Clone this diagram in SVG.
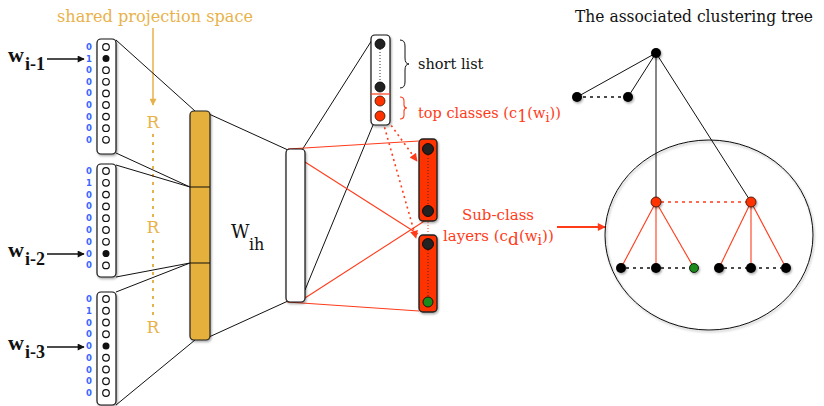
<svg xmlns="http://www.w3.org/2000/svg" width="824" height="406" viewBox="0 0 824 406">
<style>
.serif{font-family:"DejaVu Serif","Liberation Serif",serif}
.yel{fill:#e8b24a}
.red{fill:#ff3b1a}
.num{font-family:"DejaVu Sans","Liberation Sans",sans-serif;font-weight:bold;font-size:8.5px;fill:#3a66ff;text-anchor:middle}
.wl{font-family:"Liberation Serif",serif;font-weight:bold;fill:#111}
.box{fill:#fff;stroke:#111;stroke-width:1.2}
.oc{fill:#fff;stroke:#111;stroke-width:1.2}
.fc{fill:#111}
.bl{stroke:#111;stroke-width:1;fill:none}
.rl{stroke:#ff3b1a;stroke-width:1.1;fill:none}
.dk{fill:#222;stroke:#000;stroke-width:0.8}
.rn{fill:#ff3300;stroke:#331100;stroke-width:0.8}
.gn{fill:#1a8a1a;stroke:#000;stroke-width:0.8}
.tn{fill:#000}
</style>
<defs>
<marker id="ah" viewBox="0 0 10 10" refX="9" refY="5" markerWidth="9" markerHeight="7" markerUnits="userSpaceOnUse" orient="auto"><path d="M0,0 L10,5 L0,10 z" fill="#111"/></marker>
<marker id="ahy" viewBox="0 0 10 10" refX="9" refY="5" markerWidth="8" markerHeight="7" markerUnits="userSpaceOnUse" orient="auto"><path d="M0,0 L10,5 L0,10 z" fill="#e8b24a"/></marker>
<marker id="ahr" viewBox="0 0 10 10" refX="9" refY="5" markerWidth="9" markerHeight="8" markerUnits="userSpaceOnUse" orient="auto"><path d="M0,0 L10,5 L0,10 z" fill="#ff3b1a"/></marker>
<filter id="sh" x="-50%" y="-50%" width="200%" height="200%"><feDropShadow dx="1" dy="1.5" stdDeviation="1" flood-color="#000" flood-opacity="0.35"/></filter>
</defs>

<!-- projection label -->
<g id="projection-label">
<text class="serif yel" x="57" y="22" font-size="16.5" textLength="196" lengthAdjust="spacingAndGlyphs">shared projection space</text>
<line x1="153" y1="28" x2="153" y2="105" stroke="#e8b24a" stroke-width="1.5" marker-end="url(#ahy)"/>
<text class="serif yel" x="153" y="128" font-size="17" text-anchor="middle">R</text>
<line x1="153" y1="134" x2="153" y2="218" stroke="#e8b24a" stroke-width="2" stroke-dasharray="3,5"/>
<text class="serif yel" x="153" y="233" font-size="17" text-anchor="middle">R</text>
<line x1="153" y1="240" x2="153" y2="318" stroke="#e8b24a" stroke-width="2" stroke-dasharray="3,5"/>
<text class="serif yel" x="153" y="333" font-size="17" text-anchor="middle">R</text>
</g>

<!-- connectors -->
<g id="connectors">
<line class="bl" x1="116" y1="40" x2="195" y2="111"/>
<line class="bl" x1="116" y1="153" x2="190" y2="187"/>
<line class="bl" x1="116" y1="165" x2="190" y2="187"/>
<line class="bl" x1="116" y1="277" x2="190" y2="263"/>
<line class="bl" x1="116" y1="292" x2="190" y2="263"/>
<line class="bl" x1="116" y1="405" x2="195" y2="340"/>
<line class="bl" x1="209" y1="114" x2="288" y2="150"/>
<line class="bl" x1="209" y1="337" x2="288" y2="301"/>
<line class="bl" x1="302" y1="150" x2="372" y2="40"/>
<line class="bl" x1="305" y1="290" x2="373" y2="125"/>
<line class="rl" x1="288" y1="149" x2="419" y2="141"/>
<line class="rl" x1="305" y1="162" x2="418" y2="234"/>
<line class="rl" x1="305" y1="298" x2="426" y2="220"/>
<line class="rl" x1="287" y1="302" x2="419" y2="311"/>
<line x1="388" y1="121" x2="417" y2="161" stroke="#ff3b1a" stroke-width="1.6" stroke-dasharray="2,3.5" marker-end="url(#ahr)"/>
<line x1="383" y1="122" x2="416" y2="238" stroke="#ff3b1a" stroke-width="1.6" stroke-dasharray="2,3.5" marker-end="url(#ahr)"/>
<line x1="557" y1="227" x2="605" y2="227" stroke="#ff3b1a" stroke-width="2" marker-end="url(#ahr)"/>
<line x1="47" y1="59" x2="84" y2="59" stroke="#111" stroke-width="1.6" marker-end="url(#ah)"/>
<line x1="47" y1="254" x2="84" y2="254" stroke="#111" stroke-width="1.6" marker-end="url(#ah)"/>
<line x1="47" y1="347" x2="84" y2="347" stroke="#111" stroke-width="1.6" marker-end="url(#ah)"/>
</g>

<!-- input 1 -->
<g id="input-1">
<text class="wl" x="8" y="62" font-size="22">w</text>
<text class="wl" x="25" y="70" font-size="18">i-1</text>
<rect class="box" x="97" y="39" width="19" height="115" rx="4" filter="url(#sh)"/>
<circle class="oc" cx="106" cy="47" r="3.3"/>
<circle class="fc" cx="106" cy="58.6" r="3.5"/>
<circle class="oc" cx="106" cy="70.2" r="3.3"/>
<circle class="oc" cx="106" cy="81.8" r="3.3"/>
<circle class="oc" cx="106" cy="93.4" r="3.3"/>
<circle class="oc" cx="106" cy="105" r="3.3"/>
<circle class="oc" cx="106" cy="116.6" r="3.3"/>
<circle class="oc" cx="106" cy="128.2" r="3.3"/>
<circle class="oc" cx="106" cy="139.8" r="3.3"/>
<text class="num" x="89" y="50">0</text>
<text class="num" x="89" y="61.6">1</text>
<text class="num" x="89" y="73.2">0</text>
<text class="num" x="89" y="84.8">0</text>
<text class="num" x="89" y="96.4">0</text>
<text class="num" x="89" y="108">0</text>
<text class="num" x="89" y="119.6">0</text>
<text class="num" x="89" y="131.2">0</text>
<text class="num" x="89" y="142.8">0</text>
</g>

<!-- input 2 -->
<g id="input-2">
<text class="wl" x="8" y="257" font-size="22">w</text>
<text class="wl" x="25" y="265" font-size="18">i-2</text>
<rect class="box" x="97" y="164" width="19" height="113" rx="4" filter="url(#sh)"/>
<circle class="oc" cx="106" cy="171" r="3.3"/>
<circle class="oc" cx="106" cy="182.8" r="3.3"/>
<circle class="oc" cx="106" cy="194.6" r="3.3"/>
<circle class="oc" cx="106" cy="206.4" r="3.3"/>
<circle class="oc" cx="106" cy="218.2" r="3.3"/>
<circle class="oc" cx="106" cy="230" r="3.3"/>
<circle class="oc" cx="106" cy="241.8" r="3.3"/>
<circle class="fc" cx="106" cy="253.6" r="3.5"/>
<circle class="oc" cx="106" cy="265.4" r="3.3"/>
<text class="num" x="89" y="174">0</text>
<text class="num" x="89" y="185.8">1</text>
<text class="num" x="89" y="197.6">0</text>
<text class="num" x="89" y="209.4">0</text>
<text class="num" x="89" y="221.2">0</text>
<text class="num" x="89" y="233">0</text>
<text class="num" x="89" y="244.8">0</text>
<text class="num" x="89" y="256.6">0</text>
<text class="num" x="89" y="268.4">0</text>
</g>

<!-- input 3 -->
<g id="input-3">
<text class="wl" x="8" y="350" font-size="22">w</text>
<text class="wl" x="25" y="358" font-size="18">i-3</text>
<rect class="box" x="97" y="292" width="19" height="113" rx="4" filter="url(#sh)"/>
<circle class="oc" cx="106" cy="299" r="3.3"/>
<circle class="oc" cx="106" cy="310.75" r="3.3"/>
<circle class="oc" cx="106" cy="322.5" r="3.3"/>
<circle class="oc" cx="106" cy="334.25" r="3.3"/>
<circle class="fc" cx="106" cy="346" r="3.5"/>
<circle class="oc" cx="106" cy="357.75" r="3.3"/>
<circle class="oc" cx="106" cy="369.5" r="3.3"/>
<circle class="oc" cx="106" cy="381.25" r="3.3"/>
<circle class="oc" cx="106" cy="393" r="3.3"/>
<text class="num" x="89" y="302">0</text>
<text class="num" x="89" y="313.75">1</text>
<text class="num" x="89" y="325.5">0</text>
<text class="num" x="89" y="337.25">0</text>
<text class="num" x="89" y="349">0</text>
<text class="num" x="89" y="360.75">0</text>
<text class="num" x="89" y="372.5">0</text>
<text class="num" x="89" y="384.25">0</text>
<text class="num" x="89" y="396">0</text>
</g>

<!-- projection bar -->
<g id="projection-layer">
<rect x="190" y="111" width="20" height="229" rx="4" fill="#e6b03c" stroke="#222" stroke-width="1.2" filter="url(#sh)"/>
<line class="bl" x1="190" y1="187" x2="210" y2="187"/>
<line class="bl" x1="190" y1="263" x2="210" y2="263"/>
</g>

<g id="wih-label">
<text class="serif" x="231" y="238" font-size="18" fill="#111">W</text>
<text class="serif" x="249" y="250" font-size="16" fill="#111">ih</text>
</g>

<!-- hidden layer -->
<g id="hidden-layer">
<rect class="box" x="286" y="149" width="19" height="153" rx="4" filter="url(#sh)"/>
</g>

<!-- output short list -->
<g id="output-layer">
<rect class="box" x="371" y="35" width="19" height="90" rx="4" filter="url(#sh)"/>
<line x1="380" y1="49" x2="380" y2="82" stroke="#333" stroke-width="1" stroke-dasharray="1,2"/>
<circle class="dk" cx="380" cy="44" r="5"/>
<circle class="dk" cx="380" cy="87" r="5"/>
<line x1="371" y1="94" x2="390" y2="94" stroke="#ff3b1a" stroke-width="1.2"/>
<circle class="rn" cx="380" cy="101" r="5"/>
<circle class="rn" cx="380" cy="116" r="5"/>
<path class="bl" d="M400,40 q5,0 5,6 v12 q0,6 4,6 q-4,0 -4,6 v12 q0,6 -5,6"/>
<text class="serif" x="418" y="69" font-size="14.5" fill="#111">short list</text>
<path class="rl" d="M400,97 q4,0 4,4 v4 q0,3 3,3 q-3,0 -3,3 v4 q0,4 -4,4"/>
<text class="serif red" x="418" y="118" font-size="14.5">top classes (c<tspan font-size="16" dy="4">1</tspan><tspan dy="-4">(w</tspan><tspan font-size="13" dy="4">i</tspan><tspan dy="-4">))</tspan></text>
</g>

<!-- sub-class layers -->
<g id="subclass-layer-1">
<rect x="419" y="139" width="18" height="82" rx="4" fill="#ff3300" stroke="#222" stroke-width="1.4" filter="url(#sh)"/>
<line x1="428" y1="155" x2="428" y2="205" stroke="#333" stroke-width="1" stroke-dasharray="1,2"/>
<circle class="dk" cx="428" cy="149" r="5.5"/>
<circle class="dk" cx="428" cy="211" r="5.5"/>
</g>
<g id="subclass-layer-2">
<line x1="428" y1="222" x2="428" y2="234" stroke="#ff3b1a" stroke-width="1" stroke-dasharray="1,2"/>
<rect x="419" y="235" width="18" height="77" rx="4" fill="#ff3300" stroke="#222" stroke-width="1.4" filter="url(#sh)"/>
<line x1="428" y1="250" x2="428" y2="296" stroke="#333" stroke-width="1" stroke-dasharray="1,2"/>
<circle class="dk" cx="428" cy="244" r="5.5"/>
<circle class="gn" cx="428" cy="302" r="5"/>
</g>
<g id="subclass-label">
<text class="serif red" x="498" y="220" font-size="15" text-anchor="middle">Sub-class</text>
<text class="serif red" x="443" y="241" font-size="15">layers (c<tspan font-size="17" dy="4">d</tspan><tspan dy="-4">(w</tspan><tspan font-size="14" dy="4">i</tspan><tspan dy="-4">))</tspan></text>
</g>

<!-- tree -->
<g id="tree-title">
<text class="serif" x="575" y="22" font-size="16" fill="#111" textLength="238" lengthAdjust="spacingAndGlyphs">The associated clustering tree</text>
</g>
<g id="tree-edges">
<line class="bl" x1="656" y1="53" x2="577" y2="97"/>
<line class="bl" x1="656" y1="53" x2="628" y2="97"/>
<line x1="583" y1="97" x2="622" y2="97" stroke="#111" stroke-width="1.5" stroke-dasharray="3,4"/>
<line class="bl" x1="656" y1="53" x2="656" y2="202"/>
<line class="bl" x1="656" y1="53" x2="751" y2="202"/>
<line x1="661" y1="202" x2="746" y2="202" stroke="#ff3b1a" stroke-width="1.5" stroke-dasharray="3,4"/>
<line class="rl" x1="656" y1="202" x2="621" y2="268"/>
<line class="rl" x1="656" y1="202" x2="656" y2="268"/>
<line class="rl" x1="656" y1="202" x2="694" y2="268"/>
<line class="rl" x1="751" y1="202" x2="719" y2="268"/>
<line class="rl" x1="751" y1="202" x2="751" y2="268"/>
<line class="rl" x1="751" y1="202" x2="786" y2="268"/>
<line x1="626" y1="268" x2="689" y2="268" stroke="#111" stroke-width="1.5" stroke-dasharray="3,4"/>
<line x1="724" y1="268" x2="781" y2="268" stroke="#111" stroke-width="1.5" stroke-dasharray="3,4"/>
</g>
<g id="tree-cluster">
<ellipse cx="709" cy="235" rx="104" ry="95" fill="none" stroke="#111" stroke-width="1" filter="url(#sh)"/>
</g>
<g id="tree-root"><circle class="tn" cx="656" cy="53" r="5" filter="url(#sh)"/></g>
<g id="tree-top-1"><circle class="tn" cx="577" cy="97" r="5" filter="url(#sh)"/></g>
<g id="tree-top-2"><circle class="tn" cx="628" cy="97" r="5" filter="url(#sh)"/></g>
<g id="tree-sub-1"><circle class="rn" cx="656" cy="202" r="5" filter="url(#sh)"/></g>
<g id="tree-sub-2"><circle class="rn" cx="751" cy="202" r="5" filter="url(#sh)"/></g>
<g id="tree-leaf-1"><circle class="tn" cx="621" cy="268" r="5" filter="url(#sh)"/></g>
<g id="tree-leaf-2"><circle class="tn" cx="656" cy="268" r="5" filter="url(#sh)"/></g>
<g id="tree-leaf-3"><circle class="gn" cx="694" cy="268" r="4.5" filter="url(#sh)"/></g>
<g id="tree-leaf-4"><circle class="tn" cx="719" cy="268" r="5" filter="url(#sh)"/></g>
<g id="tree-leaf-5"><circle class="tn" cx="751" cy="268" r="5" filter="url(#sh)"/></g>
<g id="tree-leaf-6"><circle class="tn" cx="786" cy="268" r="5" filter="url(#sh)"/></g>
</svg>
